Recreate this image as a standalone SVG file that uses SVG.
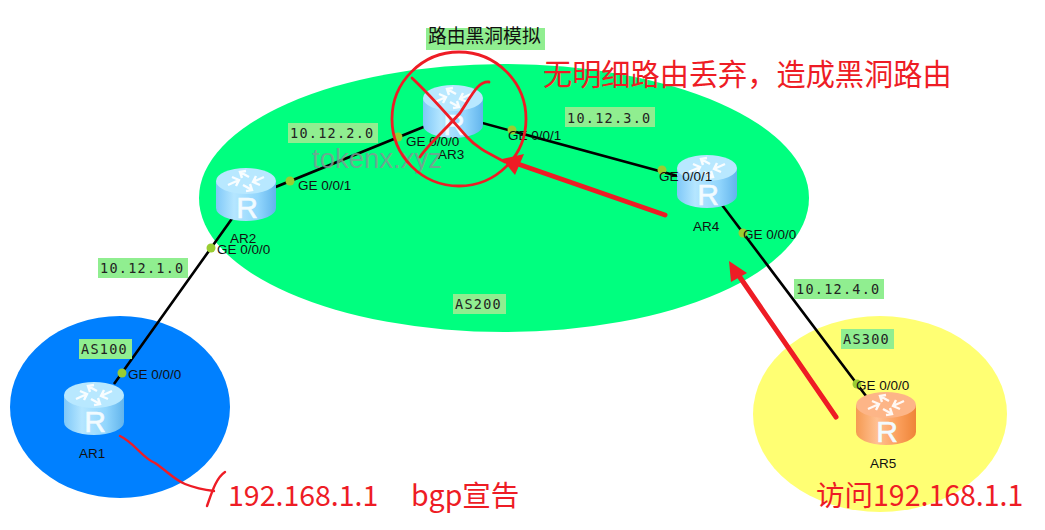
<svg xmlns="http://www.w3.org/2000/svg" width="1045" height="530" viewBox="0 0 1045 530">
<style>
text{font-family:"Liberation Sans",Arial,sans-serif;font-size:13.5px;fill:#111}
.net{font-family:"DejaVu Sans Mono","Liberation Mono",monospace;font-size:13.5px;letter-spacing:1.25px;fill:#222}
.lab{fill:#90ee90}
.ln{stroke:#000;stroke-width:2.6;fill:none}
.dot{fill:#9acd32}
.red{fill:none;stroke:#ee1c25;stroke-linecap:round;stroke-linejoin:round}
.cn{font-family:"Noto Sans CJK SC","Liberation Sans",sans-serif;fill:#ee1c25;font-size:28.5px}
.cnb{font-family:"Noto Sans CJK SC","Liberation Sans",sans-serif;font-size:18.8px;fill:#111}
.rt{font-family:"Liberation Sans",sans-serif;font-size:30px;fill:#f2fbff;text-anchor:middle;stroke:#f2fbff;stroke-width:.6}
.arw{stroke:#fff;stroke-width:2.4;fill:none;opacity:.9}
</style>
<defs>
<linearGradient id="blueBody" x1="0" x2="1" y1="0" y2="0"><stop offset="0" stop-color="#7fc8f8"/><stop offset=".3" stop-color="#b5e6ff"/><stop offset=".7" stop-color="#92d6fd"/><stop offset="1" stop-color="#62b4ec"/></linearGradient>
<linearGradient id="orangeBody" x1="0" x2="1" y1="0" y2="0"><stop offset="0" stop-color="#f59a52"/><stop offset=".35" stop-color="#ffc092"/><stop offset=".7" stop-color="#fb9f5c"/><stop offset="1" stop-color="#ee8438"/></linearGradient>
<g id="arrows">
<path class="arw" d="M-18 4 L-7 -1 M-14 -4 L-7 -1 L-10 5 M18 -4 L7 1 M14 4 L7 1 L10 -5 M-6 -9 L3 -4 M-4 -3 L-6 -9 L0 -10 M6 9 L-3 4 M4 3 L6 9 L0 10" transform="translate(0,13)"/>
</g>
<g id="routerBlue">
<path d="M-30 13 V40 A30 13 0 0 0 30 40 V13 Z" fill="url(#blueBody)"/>
<ellipse cx="0" cy="13" rx="30" ry="13" fill="#b8e8ff"/>
<use href="#arrows"/>
<text class="rt" x="1" y="50">R</text>
</g>
<g id="routerOrange">
<path d="M-30 13 V40 A30 13 0 0 0 30 40 V13 Z" fill="url(#orangeBody)"/>
<ellipse cx="0" cy="13" rx="30" ry="13" fill="#fdb587"/>
<use href="#arrows"/>
<text class="rt" x="1" y="50">R</text>
</g>
</defs>
<rect width="1045" height="530" fill="#fff"/>
<g id="areas">
<ellipse cx="120" cy="407" rx="110" ry="91" fill="#0080ff"/>
<ellipse cx="504" cy="198" rx="305" ry="134" fill="#00ff7f"/>
<ellipse cx="880" cy="414" rx="127" ry="98" fill="#ffff73"/>
</g>
<g id="connectors">
<path class="ln" d="M114 384 L246 199 M246 199 L453 115 M453 115 L707 184 M707 185 L866 396"/>
<circle class="dot" cx="122" cy="373" r="4.5"/>
<circle class="dot" cx="211" cy="248" r="4.5"/>
<circle class="dot" cx="290" cy="181" r="4.5"/>
<circle class="dot" cx="398" cy="137" r="4.5"/>
<circle class="dot" cx="512" cy="130" r="4.5"/>
<circle class="dot" cx="662" cy="170" r="4.5"/>
<circle class="dot" cx="743" cy="233" r="4.5"/>
<circle class="dot" cx="857" cy="384" r="4.5"/>
</g>
<g id="AR1"><use href="#routerBlue" x="94" y="382"/><text x="79" y="458">AR1</text></g>
<g id="AR2"><use href="#routerBlue" x="246" y="168"/><text x="230" y="243">AR2</text></g>
<g id="AR3"><use href="#routerBlue" x="453" y="85"/><text x="438" y="159">AR3</text></g>
<g id="AR4"><use href="#routerBlue" x="707" y="155"/><text x="693" y="231">AR4</text></g>
<g id="AR5"><use href="#routerOrange" x="886" y="392"/><text x="870" y="468">AR5</text></g>
<g id="interfaces">
<text x="128" y="379">GE 0/0/0</text>
<text x="217" y="254">GE 0/0/0</text>
<text x="298" y="190">GE 0/0/1</text>
<text x="406" y="146">GE 0/0/0</text>
<text x="508" y="140">GE 0/0/1</text>
<text x="659" y="181">GE 0/0/1</text>
<text x="743" y="239">GE 0/0/0</text>
<text x="856" y="390">GE 0/0/0</text>
</g>
<g id="labels">
<rect class="lab" x="98" y="258" width="90" height="20"/><text class="net" x="100" y="273">10.12.1.0</text>
<rect class="lab" x="288" y="123" width="90" height="20"/><text class="net" x="290" y="138">10.12.2.0</text>
<rect class="lab" x="565" y="107" width="90" height="20"/><text class="net" x="567" y="123">10.12.3.0</text>
<rect class="lab" x="794" y="279" width="90" height="20"/><text class="net" x="796" y="294">10.12.4.0</text>
<rect class="lab" x="79" y="339" width="53" height="20"/><text class="net" x="81" y="354">AS100</text>
<rect class="lab" x="453" y="294" width="53" height="20"/><text class="net" x="455" y="309">AS200</text>
<rect class="lab" x="841" y="329" width="53" height="20"/><text class="net" x="843" y="344">AS300</text>
<rect class="lab" x="426" y="28" width="119" height="22"/><text class="cnb" x="428" y="43">路由黑洞模拟</text>
</g>
<text id="watermark" x="312" y="168" style="font-size:27.5px;fill:#7f9a94;fill-opacity:.85">tokenx.xyz</text>
<g id="annotations">
<circle class="red" cx="459" cy="119" r="67" stroke-width="2.8"/>
<path class="red" stroke-width="2.8" d="M412 78 C435 100 450 118 467 137 C477 148 488 153 505 162"/>
<path class="red" stroke-width="2.8" d="M489 82 C478 81 472 95 460 113 C445 130 428 145 420 157"/>
<path class="red" stroke-width="5" d="M665 215 L515 163"/>
<polygon points="502,159 524,154 515,175" fill="#ee1c25"/>
<path class="red" stroke-width="5" d="M836 417 L737 273"/>
<polygon points="729,261 747,273 731,282" fill="#ee1c25"/>
<path class="red" stroke-width="2.4" d="M120 436 C135 443 142 458 155 463 C168 472 175 480 185 484 C195 488 205 490 214 491"/>
<path class="red" stroke-width="2.4" d="M225 472 C216 478 212 492 207 506"/>
<text class="cn" x="543" y="85" style="font-size:29.2px">无明细路由丢弃，造成黑洞路由</text>
<text class="cn" x="228" y="506">192.168.1.1</text>
<text class="cn" x="411" y="506">bgp宣告</text>
<text class="cn" x="816" y="506">访问192.168.1.1</text>
</g>
</svg>
